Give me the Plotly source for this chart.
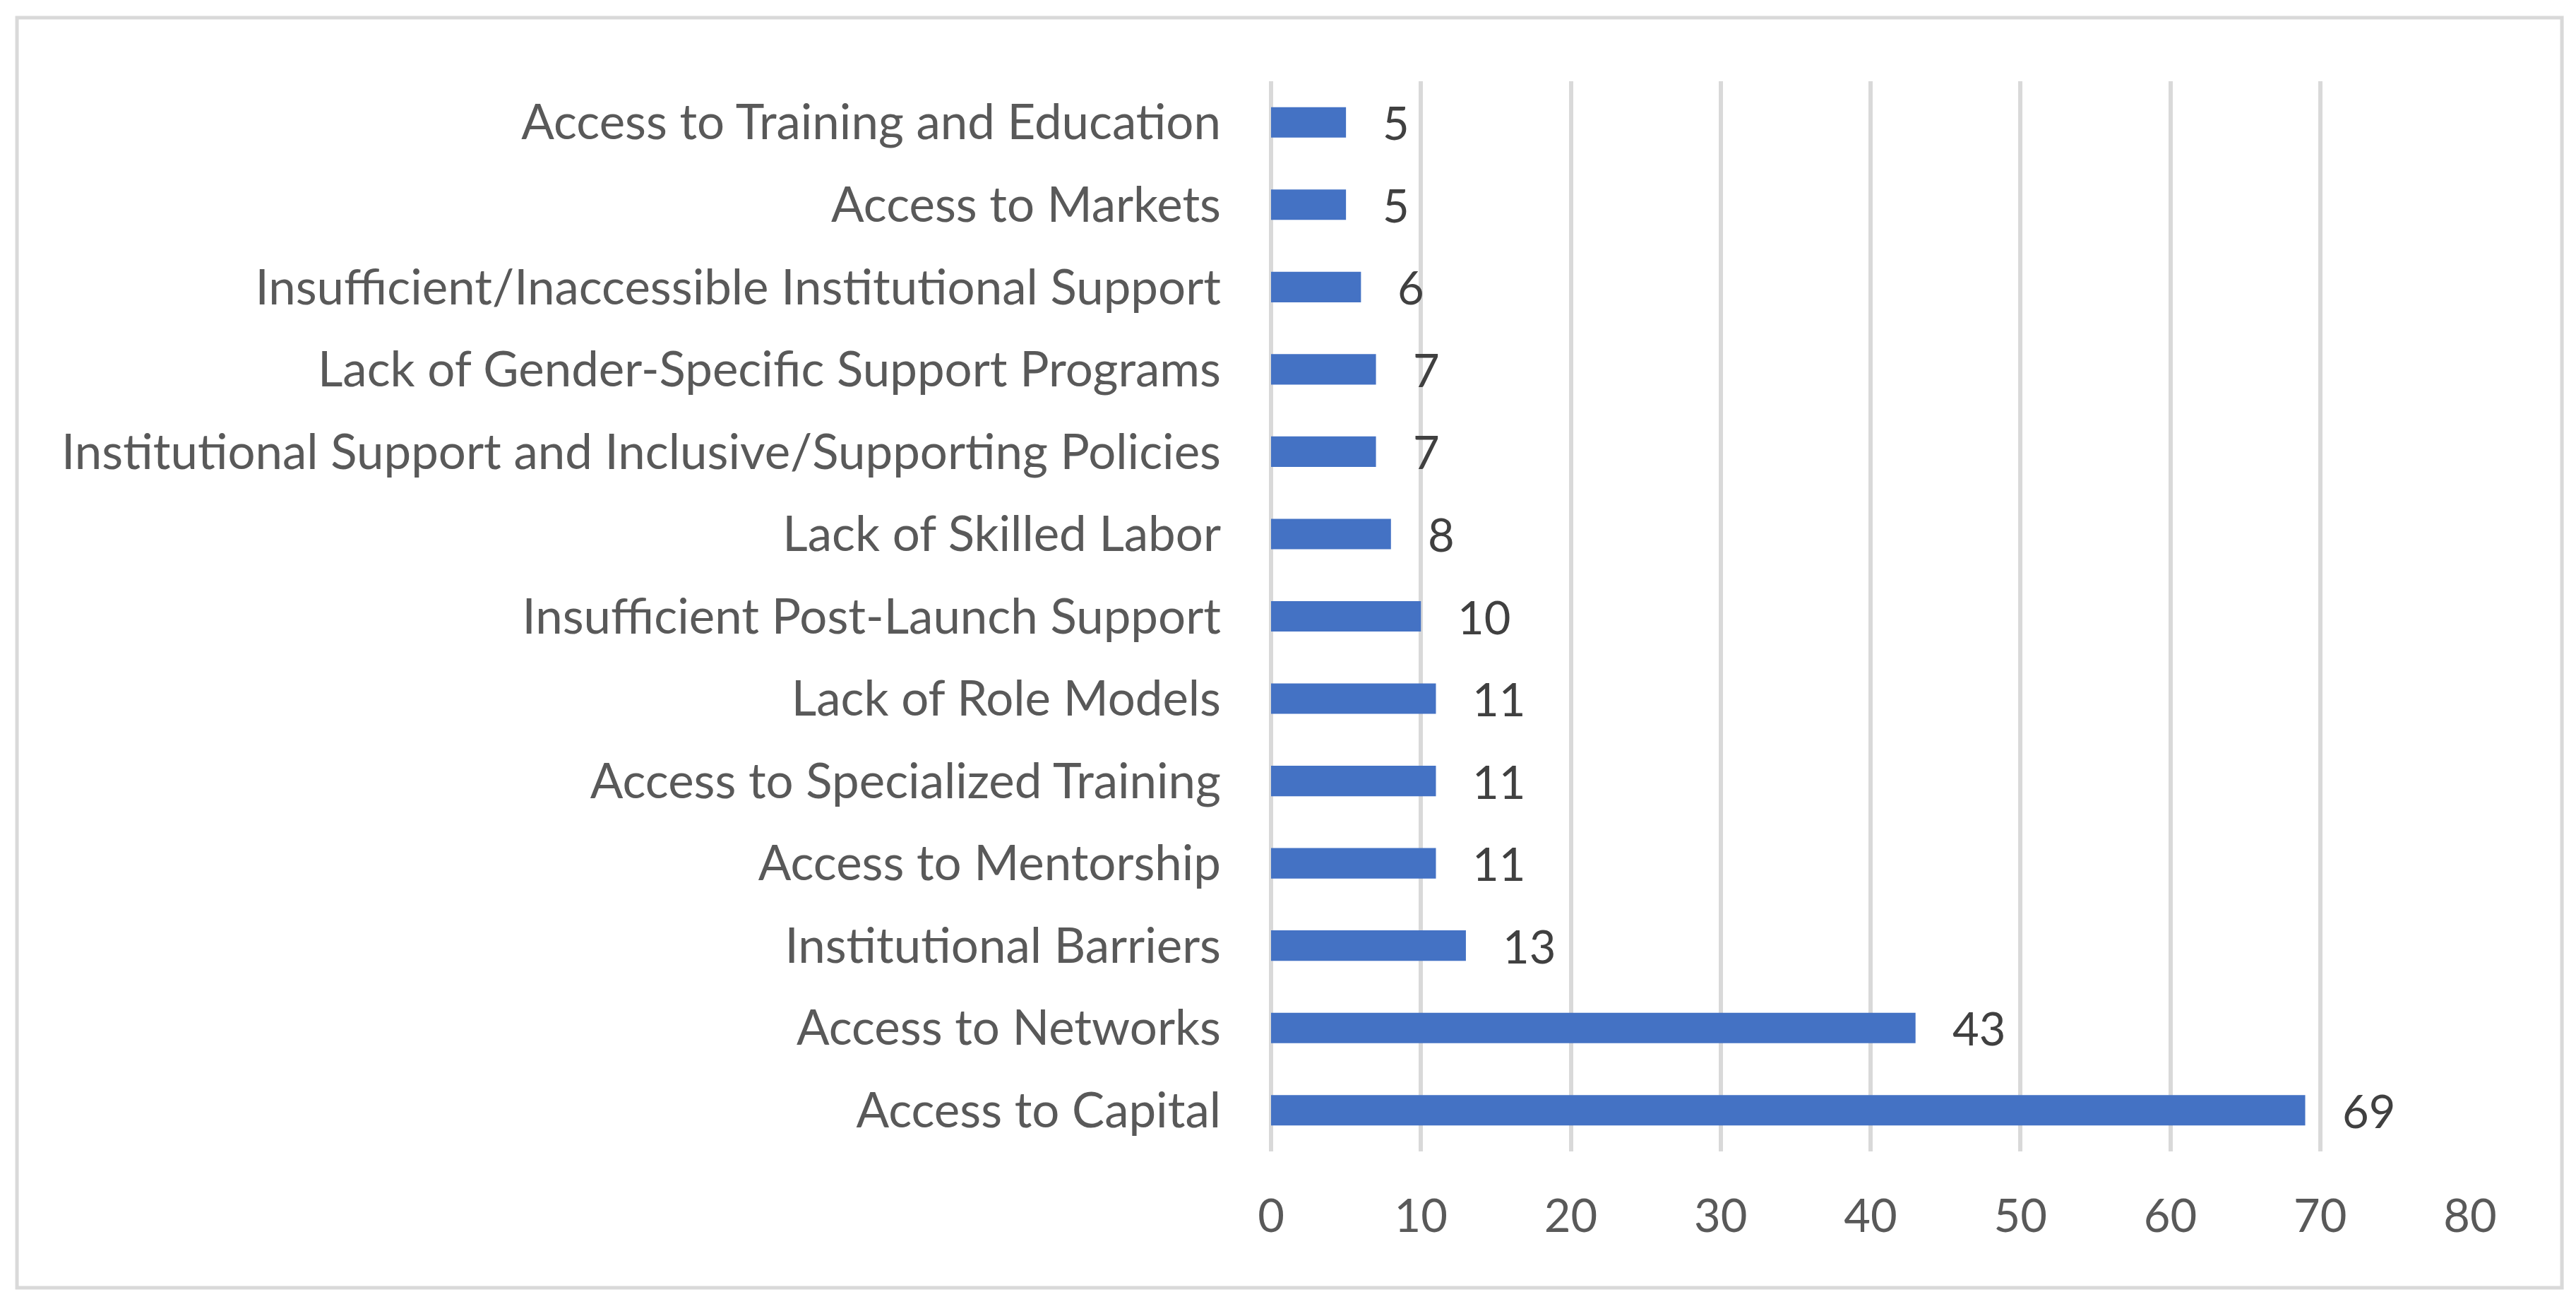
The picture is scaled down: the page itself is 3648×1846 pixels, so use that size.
import plotly.graph_objects as go

# categories bottom -> top (plotly puts the first category at the bottom)
categories = [
    "Access to Capital",
    "Access to Networks",
    "Institutional Barriers",
    "Access to Mentorship",
    "Access to Specialized Training",
    "Lack of Role Models",
    "Insufficient Post-Launch Support",
    "Lack of Skilled Labor",
    "Institutional Support and Inclusive/Supporting Policies",
    "Lack of Gender-Specific Support Programs",
    "Insufficient/Inaccessible Institutional Support",
    "Access to Markets",
    "Access to Training and Education",
]
counts = [69, 43, 13, 11, 11, 11, 10, 8, 7, 7, 6, 5, 5]
x_ticks = [0, 10, 20, 30, 40, 50, 60, 70, 80]

# page body adds 8px, so the figure is drawn a bit smaller
W, H = 3640, 1838
FONT = "Lato"
GRID = "#d9d9d9"

fig = go.Figure()
fig.add_trace(go.Bar(
    x=counts, y=categories, orientation="h",
    marker=dict(color="#4472c4", line=dict(width=0)),
    hoverinfo="x+y",
))

# value labels sit a fixed gap to the right of each bar end
for c, v in zip(categories, counts):
    fig.add_annotation(
        x=v, y=c, xref="x", yref="y", text=str(v),
        showarrow=False, xanchor="left", yanchor="middle", xshift=50,
        font=dict(family=FONT, size=65, color="#404040"),
    )

# outer chart border
fig.add_shape(
    type="rect", xref="paper", yref="paper",
    x0=-1.0459, x1=1.0766, y0=-0.1274, y1=1.0594,
    line=dict(color=GRID, width=5), fillcolor="rgba(0,0,0,0)", layer="below",
)

fig.update_layout(
    width=W, height=H,
    margin=dict(l=1792, r=150, t=107, b=216, autoexpand=False),
    paper_bgcolor="white", plot_bgcolor="white",
    bargap=0.63, showlegend=False,
    font=dict(family=FONT, size=64, color="#595959"),
)
fig.update_xaxes(
    range=[0, 80], tickvals=x_ticks, showgrid=True, gridcolor=GRID, gridwidth=6,
    zeroline=True, zerolinecolor=GRID, zerolinewidth=6,
    showline=False, ticks="", ticklabelstandoff=48,
    tickfont=dict(family=FONT, size=65, color="#595959"), fixedrange=True,
)
fig.update_yaxes(
    type="category", categoryorder="array", categoryarray=categories,
    showgrid=False, zeroline=False, showline=False, ticks="", ticklabelstandoff=70,
    tickfont=dict(family=FONT, size=69, color="#595959"), fixedrange=True,
)

fig.write_html("out.html")
